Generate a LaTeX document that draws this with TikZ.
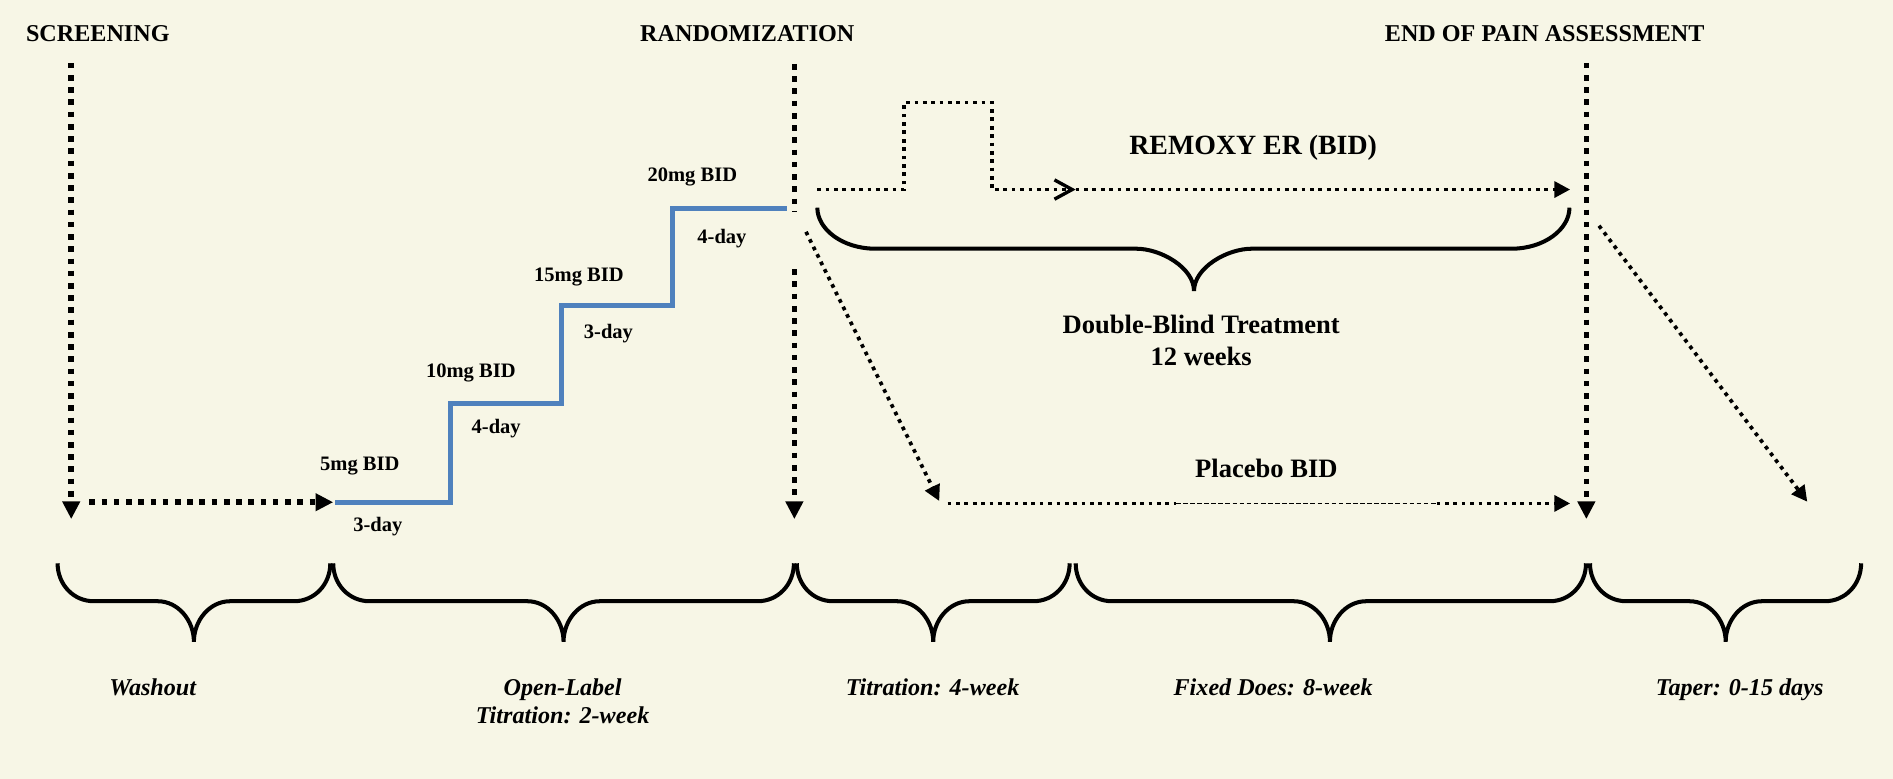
\documentclass[tikz,border=0pt]{standalone}
\usepackage{fontspec}
\setmainfont{Liberation Serif}
\usepackage{tikz}
\usetikzlibrary{arrows.meta}
\definecolor{bgcream}{RGB}{247,246,230}
\definecolor{doseblue}{RGB}{79,129,189}
\tikzset{
  milestone/.style={font=\fontsize{15}{18}\selectfont\bfseries, anchor=base},
  doselbl/.style={font=\fontsize{12.75}{15}\selectfont\bfseries, anchor=base},
  armlbl/.style={font=\fontsize{16.5}{20}\selectfont\bfseries, anchor=base},
  phaselbl/.style={font=\fontsize{15}{18}\selectfont\bfseries\itshape, anchor=base},
  thickdots/.style={line width=3.4pt, dash pattern=on 3.5pt off 4.1pt},
  thindots/.style={line width=2.3pt, dash pattern=on 2.3pt off 2.9pt},
  finedash/.style={line width=1pt, dash pattern=on 2.9pt off 1.5pt},
  bigtip/.style={-{Triangle[length=11pt,width=10.5pt]}},
  smalltip/.style={-{Triangle[length=9.75pt,width=9.75pt]}},
  stairline/.style={doseblue, line width=3pt, miter limit=4},
  bracepath/.style={line width=2.5pt}
}

\begin{document}
\begin{tikzpicture}[x=0.75pt,y=0.75pt,yscale=-1,xscale=1]
      \fill[bgcream] (0,0) rectangle (1568,645);
      \useasboundingbox (0,0) rectangle (1568,645);

      % milestones
      \node[milestone] (screen) at (81,34)     {SCREENING};
      \node[milestone] (random) at (619,34)    {RANDOMIZATION};
      \node[milestone] (endpain) at (1279.5,34) {END OF PAIN ASSESSMENT};

      \coordinate (scrtop)  at (59,52);
      \coordinate (scrend)  at (59,430);
      \coordinate (washbeg) at (74,416);
      \coordinate (washend) at (276,416);
      \coordinate (randtop) at (658,53);
      \coordinate (randcut) at (658,175);
      \coordinate (randlow) at (658,223);
      \coordinate (randend) at (658,430);
      \coordinate (endtop)  at (1314,52);
      \coordinate (endend)  at (1314,430);

      \draw[thickdots, bigtip] (scrtop) -- (scrend);
      \draw[thickdots, bigtip] (washbeg) -- (washend);
      \draw[thickdots] (randtop) -- (randcut);
      \draw[thickdots, bigtip] (randlow) -- (randend);
      \draw[thickdots, bigtip] (endtop) -- (endend);

      % open-label titration
      \draw[stairline] (277.5,416) -- (373,416) -- (373,334) -- (465,334)
            -- (465,253) -- (557,253) -- (557,172.5) -- (652,172.5);
      \node[doselbl] (d5)   at (298,390)   {5mg BID};
      \node[doselbl] (t5)   at (313,440)   {3-day};
      \node[doselbl] (d10)  at (390,312.7) {10mg BID};
      \node[doselbl] (t10)  at (411,359)   {4-day};
      \node[doselbl] (d15)  at (479.5,233) {15mg BID};
      \node[doselbl] (t15)  at (504,280.5) {3-day};
      \node[doselbl] (d20)  at (573.5,150) {20mg BID};
      \node[doselbl] (t20)  at (598,202)   {4-day};

      % remoxy arm
      \coordinate (rembeg) at (677,157);
      \coordinate (remmid) at (891,157);
      \coordinate (remend) at (1300.6,157);
      \draw[thindots, -{Straight Barb[length=11pt,width=12pt,line width=2.1pt]}]
            (rembeg) -| (749,85) -| (821.5,157) -- (remmid);
      \draw[thindots, smalltip] (remmid) -- (remend);
      \node[armlbl, font=\fontsize{17.3}{20}\selectfont\bfseries] (remoxy) at (1038,128) {REMOXY ER (BID)};

      \draw[bracepath] (677,172) .. controls (677,190) and (698,206) .. (725,206) -- (941,206)
            .. controls (962,206) and (989,222) .. (989,241)
            .. controls (989,222) and (1016,206) .. (1037,206) -- (1252,206)
            .. controls (1279,206) and (1300,190) .. (1300,172);
      \node[armlbl] (dbt) at (995,276.6) {Double-Blind Treatment};
      \node[armlbl] (dbw) at (995,303)   {12 weeks};

      % placebo arm
      \coordinate (plcout) at (667.6,192);
      \coordinate (plcbeg) at (778,415);
      \coordinate (plcA)   at (785,417);
      \coordinate (plcB)   at (974,417);
      \coordinate (plcC)   at (1190,417);
      \coordinate (plcend) at (1300.6,417);
      \draw[thindots, smalltip] (plcout) -- (plcbeg);
      \draw[thindots] (plcA) -- (plcB);
      \draw[finedash] (plcB) -- (plcC);
      \draw[thindots, smalltip] (plcC) -- (plcend);
      \node[armlbl] (placebo) at (1049,395.5) {Placebo BID};

      % taper
      \coordinate (tapbeg) at (1324.5,187);
      \coordinate (tapend) at (1497,415.6);
      \draw[thindots, smalltip] (tapbeg) -- (tapend);

      % phase braces
      \foreach \l/\r/\t in {47.7/273.6/160.6, 276/657.6/466.8, 660/886/773,
                            891/1313.7/1101.6, 1317/1541.6/1429.4}
        \draw[bracepath] (\l,466.6) .. controls (\l,484) and (\l+13,498) .. (\l+30,498)
              -- (\t-30,498) .. controls (\t-13,498) and (\t,514) .. (\t,531.5)
              .. controls (\t,514) and (\t+13,498) .. (\t+30,498)
              -- (\r-30,498) .. controls (\r-13,498) and (\r,484) .. (\r,466.6);

      \node[phaselbl] (washout) at (126.5,576.5)  {Washout};
      \node[phaselbl] (openlbl) at (466,576.5)    {Open-Label};
      \node[phaselbl] (opentit) at (466,599)      {Titration: 2-week};
      \node[phaselbl] (titr)    at (772.5,576.5)  {Titration: 4-week};
      \node[phaselbl] (fixed)   at (1054.6,576.5) {Fixed Does: 8-week};
      \node[phaselbl] (taper)   at (1441,576.5)   {Taper: 0-15 days};
    \end{tikzpicture}
\end{document}
